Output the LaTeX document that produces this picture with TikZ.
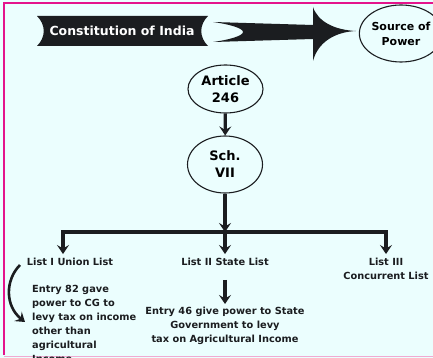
\documentclass[tikz,border=0pt]{standalone}
\usepackage{fontspec}
\setmainfont{DejaVu Sans}
\usetikzlibrary{arrows.meta,shapes.geometric}
\definecolor{bgcyan}{RGB}{235,254,254}
\definecolor{rim}{RGB}{228,20,140}
\definecolor{rimlight}{RGB}{240,170,210}
\definecolor{ink}{RGB}{27,29,32}

\tikzset{
  bubble/.style={draw=ink,ellipse,line width=1.1pt,inner sep=0pt,align=center,
    minimum width=75pt,minimum height=48pt,font=\bfseries\fontsize{13}{17}\selectfont},
  flow/.style={draw=ink,line width=3.2pt,-{Stealth[length=9pt,width=12pt,inset=3.5pt]}},
  bar/.style={draw=ink,line width=3.2pt,line cap=rect},
  listtext/.style={inner sep=0pt,text=ink,font=\bfseries\fontsize{9.8}{14}\selectfont},
}

\begin{document}
\begin{tikzpicture}[x=1pt,y=-1pt]
\useasboundingbox (0,0) rectangle (433,358);
\clip (0,0) rectangle (433,358);
\fill[bgcyan] (0,0) rectangle (433,358);
% frame
\draw[rim,line width=1.4pt] (440,3) -- (4,3) -- (4,355);
\draw[rimlight,line width=1.4pt] (4,356.5) -- (440,356.5);

% banner and big arrow
\fill[ink] (37,16) -- (208,16) .. controls (199,25) and (199,37) .. (208,46)
  -- (37,46) .. controls (46,37) and (46,25) .. (37,16) -- cycle;
\node[text=white,font=\bfseries\fontsize{12.5}{15}\selectfont] (const) at (122,31) {Constitution of India};
\fill[ink] (213,22) -- (313,25) -- (313,7) .. controls (318,22) and (335,30) .. (356,31)
  .. controls (335,32) and (318,42) .. (313,61) -- (313,39) -- (213,42)
  .. controls (228,40) and (243,36) .. (243,32) .. controls (243,28) and (228,24) .. (213,22) -- cycle;
\node[bubble,minimum width=78pt,minimum height=57pt,font=\bfseries\fontsize{11}{15}\selectfont] (src) at (401,33.5) {Source of\\Power};

% article and schedule
\node[bubble] (art) at (225.5,89) {Article\\246};
\node[bubble,minimum height=57pt] (sch) at (225,164.5) {Sch.\\VII};
\draw[flow] (art) -- (sch);

% lists
\node[listtext] (l1) at (70,262) {List I Union List};
\node[listtext] (l2) at (225,262) {List II State List};
\node[listtext,align=center] (l3) at (386,269) {List III\\Concurrent List};
\coordinate (j1) at (63,232);
\coordinate (j2) at (225,232);
\coordinate (j3) at (386,232);
\draw[flow] (sch) -- (j2);
\draw[bar] (j1) -- (j3);
\draw[flow] (j1) -- ([yshift=4pt]j1 |- l1.north);
\draw[flow] (j2) -- ([yshift=4pt]j2 |- l2.north);
\draw[flow] (j3) -- ([yshift=4pt]j3 |- l3.north);

% entries
\node[listtext,align=left,anchor=north west] (e82) at (32,285)
  {Entry 82 gave\\power to CG to\\levy tax on income\\other than\\agricultural\\Income.};
\node[listtext,align=center,anchor=north] (e46) at (225,307)
  {Entry 46 give power to State\\Government to levy\\tax on Agricultural Income};
\draw[flow] ([yshift=-14pt]l2.south) -- ([yshift=3pt]e46.north);
\coordinate (bend) at (20,265);
\draw[flow,line width=2.6pt] (bend) .. controls (5,280) and (5,306) .. (25,322);
\end{tikzpicture}
\end{document}
